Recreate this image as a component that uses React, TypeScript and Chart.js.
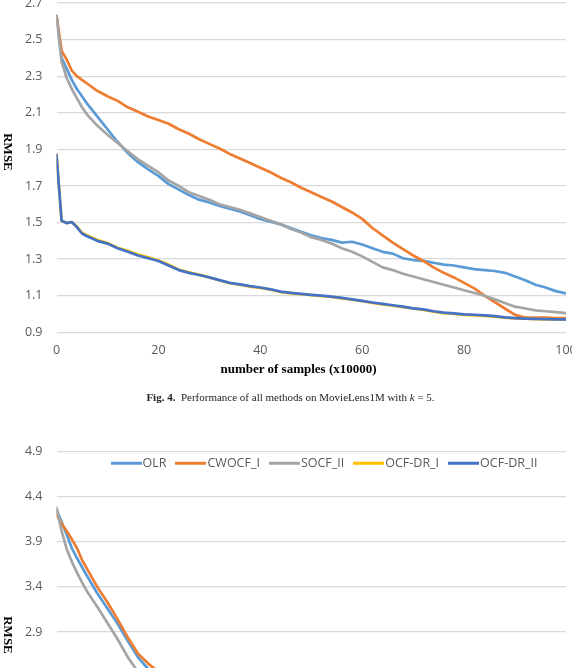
import React, { useEffect, useRef } from "react";
import { Chart, registerables } from "chart.js";

Chart.register(...registerables);

// x positions (number of samples, x10000)
const samples = [
  0, 1, 2, 3, 4, 5, 6,
  8, 10, 12, 14, 16, 18, 20,
  22, 24, 26, 28, 30,
  32, 34, 36, 38, 40,
  42, 44, 46, 48, 50,
  52, 54, 56, 58, 60,
  62, 64, 66, 68, 70,
  72, 74, 76, 78, 80,
  82, 84, 86, 88, 90,
  92, 94, 96, 98, 100,
];

const seriesNames = ["OLR", "CWOCF_I", "SOCF_II", "OCF-DR_I", "OCF-DR_II"];
const seriesColors = ["#5B9BD5", "#ED7D31", "#A5A5A5", "#FFC000", "#4472C4"];

// Fig. 4: MovieLens1M, k = 5
const ml1mOLR = [
  2.63, 2.40, 2.34, 2.28, 2.23, 2.19, 2.15,
  2.08, 2.01, 1.94, 1.88, 1.83, 1.79, 1.755,
  1.71, 1.68, 1.65, 1.625, 1.61,
  1.59, 1.575, 1.56, 1.54, 1.52,
  1.505, 1.49, 1.47, 1.45, 1.43,
  1.415, 1.405, 1.39, 1.395, 1.38,
  1.36, 1.34, 1.33, 1.305, 1.295,
  1.29, 1.28, 1.27, 1.265, 1.255,
  1.245, 1.24, 1.235, 1.225, 1.205,
  1.185, 1.16, 1.145, 1.125, 1.113,
];
const ml1mCWOCF = [
  2.63, 2.44, 2.39, 2.33, 2.30, 2.28, 2.26,
  2.22, 2.19, 2.165, 2.13, 2.105, 2.08, 2.06,
  2.04, 2.01, 1.985, 1.955, 1.93,
  1.905, 1.875, 1.85, 1.825, 1.80,
  1.775, 1.745, 1.72, 1.69, 1.665,
  1.64, 1.615, 1.585, 1.555, 1.52,
  1.47, 1.43, 1.39, 1.355, 1.32,
  1.29, 1.255, 1.225, 1.20, 1.17,
  1.14, 1.10, 1.065, 1.03, 0.995,
  0.98, 0.98, 0.98, 0.978, 0.978,
];
const ml1mSOCF = [
  2.63, 2.38, 2.29, 2.23, 2.18, 2.13, 2.09,
  2.03, 1.98, 1.935, 1.89, 1.845, 1.81, 1.775,
  1.73, 1.70, 1.665, 1.645, 1.625,
  1.60, 1.585, 1.57, 1.55, 1.53,
  1.51, 1.49, 1.465, 1.445, 1.42,
  1.405, 1.385, 1.36, 1.34, 1.315,
  1.285, 1.255, 1.24, 1.22, 1.205,
  1.19, 1.175, 1.16, 1.145, 1.13,
  1.115, 1.10, 1.08, 1.06, 1.04,
  1.03, 1.02, 1.015, 1.01, 1.005,
];
const ml1mDR1 = [
  1.87, 1.51, 1.497, 1.503, 1.478, 1.445, 1.43,
  1.405, 1.388, 1.362, 1.345, 1.325, 1.31, 1.293,
  1.27, 1.243, 1.228, 1.215, 1.20,
  1.183, 1.168, 1.16, 1.15, 1.143,
  1.133, 1.12, 1.113, 1.108, 1.103,
  1.098, 1.093, 1.085, 1.078, 1.07,
  1.06, 1.052, 1.045, 1.038, 1.03,
  1.022, 1.013, 1.005, 1.0, 0.995,
  0.993, 0.99, 0.985, 0.98, 0.976,
  0.974, 0.972, 0.971, 0.97, 0.97,
];
const ml1mDR2 = [
  1.87, 1.51, 1.497, 1.503, 1.475, 1.44, 1.425,
  1.40, 1.385, 1.36, 1.34, 1.32, 1.305, 1.29,
  1.265, 1.24, 1.225, 1.213, 1.20,
  1.185, 1.17, 1.162, 1.152, 1.145,
  1.135, 1.122, 1.116, 1.11, 1.105,
  1.10, 1.095, 1.088, 1.08, 1.072,
  1.063, 1.055, 1.048, 1.04, 1.031,
  1.025, 1.015, 1.008, 1.003, 0.998,
  0.996, 0.993, 0.988, 0.982, 0.978,
  0.975, 0.973, 0.972, 0.971, 0.971,
];

// Second figure
const fig5OLR = [
  4.25, 4.12, 3.98, 3.83, 3.72, 3.62, 3.52,
  3.33, 3.16, 2.99, 2.80, 2.62, 2.49, 2.40,
  2.33, 2.27, 2.21, 2.16, 2.11,
  2.06, 2.02, 1.98, 1.94, 1.90,
  1.87, 1.83, 1.80, 1.77, 1.74,
  1.71, 1.69, 1.66, 1.64, 1.61,
  1.59, 1.57, 1.55, 1.52, 1.50,
  1.48, 1.47, 1.45, 1.43, 1.41,
  1.40, 1.38, 1.37, 1.35, 1.34,
  1.33, 1.31, 1.30, 1.29, 1.28,
];
const fig5CWOCF = [
  4.20, 4.10, 4.02, 3.93, 3.83, 3.70, 3.60,
  3.40, 3.23, 3.04, 2.84, 2.66, 2.55, 2.46,
  2.39, 2.32, 2.26, 2.20, 2.15,
  2.10, 2.05, 2.01, 1.96, 1.92,
  1.88, 1.84, 1.80, 1.77, 1.73,
  1.70, 1.66, 1.63, 1.59, 1.56,
  1.52, 1.49, 1.46, 1.42, 1.39,
  1.36, 1.33, 1.30, 1.27, 1.24,
  1.21, 1.18, 1.15, 1.12, 1.09,
  1.07, 1.06, 1.05, 1.05, 1.04,
];
const fig5SOCF = [
  4.28, 4.02, 3.82, 3.68, 3.56, 3.45, 3.35,
  3.18, 3.00, 2.82, 2.62, 2.46, 2.36, 2.28,
  2.21, 2.15, 2.10, 2.05, 2.00,
  1.96, 1.92, 1.88, 1.84, 1.81,
  1.77, 1.74, 1.71, 1.68, 1.65,
  1.62, 1.59, 1.56, 1.53, 1.50,
  1.47, 1.44, 1.42, 1.39, 1.37,
  1.34, 1.32, 1.29, 1.27, 1.25,
  1.22, 1.20, 1.18, 1.16, 1.14,
  1.12, 1.11, 1.10, 1.09, 1.08,
];
const fig5DR1 = [
  2.31, 1.83, 1.79, 1.76, 1.73, 1.69, 1.65,
  1.61, 1.57, 1.53, 1.50, 1.46, 1.43, 1.41,
  1.38, 1.36, 1.34, 1.32, 1.30,
  1.29, 1.27, 1.26, 1.24, 1.23,
  1.21, 1.20, 1.19, 1.18, 1.17,
  1.16, 1.15, 1.14, 1.13, 1.12,
  1.11, 1.10, 1.09, 1.08, 1.07,
  1.06, 1.06, 1.05, 1.04, 1.04,
  1.03, 1.02, 1.02, 1.01, 1.01,
  1.00, 1.00, 1.00, 0.99, 0.99,
];
const fig5DR2 = [
  2.31, 1.82, 1.78, 1.76, 1.72, 1.68, 1.65,
  1.60, 1.56, 1.52, 1.49, 1.46, 1.43, 1.40,
  1.38, 1.36, 1.34, 1.32, 1.30,
  1.28, 1.27, 1.25, 1.24, 1.22,
  1.21, 1.20, 1.19, 1.18, 1.17,
  1.16, 1.15, 1.14, 1.13, 1.12,
  1.11, 1.10, 1.09, 1.08, 1.07,
  1.06, 1.05, 1.05, 1.04, 1.03,
  1.03, 1.02, 1.02, 1.01, 1.01,
  1.00, 1.00, 0.99, 0.99, 0.99,
];

const xTicks = [0, 20, 40, 60, 80, 100];

const TICK_FONT = { family: "'Open Sans', 'Liberation Sans', sans-serif", size: 12.5 };
const TICK_COLOR = "#595959";
const GRID_COLOR = "#D9D9D9";
const SERIF = "'Liberation Serif', 'Times New Roman', serif";

type PanelProps = {
  series: number[][];
  yMin: number;
  yMax: number;
  yStep: number;
  top: number;
  canvasHeight: number;
  padTop: number;
  plotHeight: number;
};

function LinePanel({ series, yMin, yMax, yStep, top, canvasHeight, padTop, plotHeight }: PanelProps) {
  const ref = useRef<HTMLCanvasElement | null>(null);

  useEffect(() => {
    if (!ref.current) return;
    const canvasWidth = 600;
    const plotLeft = 56.5;
    const plotRight = 566;
    const chart = new Chart(ref.current, {
      type: "line",
      data: {
        datasets: series.map((vals, i) => ({
          label: seriesNames[i],
          data: samples.map((x, j) => ({ x, y: vals[j] })),
          borderColor: seriesColors[i],
          backgroundColor: seriesColors[i],
          borderWidth: 2.7,
          pointRadius: 0,
          tension: 0,
          borderJoinStyle: "round" as const,
          borderCapStyle: "round" as const,
          order: series.length - i,
        })),
      },
      options: {
        animation: false,
        responsive: false,
        events: [],
        layout: {
          padding: { top: padTop, right: canvasWidth - plotRight, left: 0, bottom: 0 },
        },
        plugins: {
          legend: { display: false },
          tooltip: { enabled: false },
        },
        scales: {
          x: {
            type: "linear",
            min: 0,
            max: 100,
            afterBuildTicks: (scale: any) => {
              scale.ticks = xTicks.map((v) => ({ value: v }));
            },
            ticks: { color: TICK_COLOR, font: TICK_FONT, padding: 11, maxRotation: 0 },
            grid: { display: false, drawTicks: false },
            border: { display: false },
            afterFit: (scale: any) => {
              scale.height = canvasHeight - padTop - plotHeight;
            },
          },
          y: {
            min: yMin,
            max: yMax,
            ticks: {
              stepSize: yStep,
              color: TICK_COLOR,
              font: TICK_FONT,
              padding: 14,
              callback: (v: any) => Number(v).toFixed(1),
            },
            grid: { color: GRID_COLOR, lineWidth: 1.3, drawTicks: false },
            border: { display: false },
            afterFit: (scale: any) => {
              scale.width = plotLeft;
            },
          },
        },
      },
    });
    return () => chart.destroy();
  }, []);

  return (
    <div style={{ position: "absolute", left: 0, top }}>
      <canvas ref={ref} width={600} height={canvasHeight} style={{ width: 600, height: canvasHeight, display: "block" }} />
    </div>
  );
}

const centered = (x: number, y: number): React.CSSProperties => ({
  position: "absolute",
  left: x,
  top: y,
  transform: "translate(-50%, -50%)",
  whiteSpace: "nowrap",
  lineHeight: 1,
});

function YTitle({ y }: { y: number }) {
  return (
    <div
      style={{
        ...centered(8.5, y),
        writingMode: "vertical-rl",
        fontFamily: SERIF,
        fontWeight: "bold",
        fontSize: 13,
        color: "#000",
      }}
    >
      RMSE
    </div>
  );
}

function Legend() {
  return (
    <div
      style={{
        position: "absolute",
        left: 110.5,
        top: 463,
        transform: "translateY(-50%)",
        display: "flex",
        alignItems: "center",
        fontFamily: TICK_FONT.family,
        fontSize: 12.5,
        color: TICK_COLOR,
        whiteSpace: "nowrap",
        lineHeight: 1,
      }}
    >
      {seriesNames.map((name, i) => (
        <div key={name} style={{ display: "flex", alignItems: "center", marginRight: 9 }}>
          <span style={{ display: "inline-block", width: 31, height: 3, background: seriesColors[i], marginRight: 1 }} />
          <span>{name}</span>
        </div>
      ))}
    </div>
  );
}

export default function App() {
  return (
    <div
      style={{
        position: "fixed",
        left: 0,
        top: 0,
        width: 572,
        height: 668,
        overflow: "hidden",
        background: "#fff",
      }}
    >
      <LinePanel
        series={[ml1mOLR, ml1mCWOCF, ml1mSOCF, ml1mDR1, ml1mDR2]}
        yMin={0.9}
        yMax={2.7}
        yStep={0.2}
        top={-20}
        canvasHeight={420}
        padTop={23}
        plotHeight={329.3}
      />
      <YTitle y={151.5} />
      <div style={{ ...centered(298.5, 368), fontFamily: SERIF, fontWeight: "bold", fontSize: 13, color: "#000" }}>
        number of samples (x10000)
      </div>
      <div style={{ ...centered(290.5, 396.5), fontFamily: SERIF, fontSize: 11, color: "#222" }}>
        <b>Fig. 4.</b>&nbsp; Performance of all methods on MovieLens1M with <i>k</i> = 5.
      </div>

      <LinePanel
        series={[fig5OLR, fig5CWOCF, fig5SOCF, fig5DR1, fig5DR2]}
        yMin={0.9}
        yMax={4.9}
        yStep={0.5}
        top={430}
        canvasHeight={460}
        padTop={17.7}
        plotHeight={364.8}
      />
      <Legend />
      <YTitle y={635} />
    </div>
  );
}
